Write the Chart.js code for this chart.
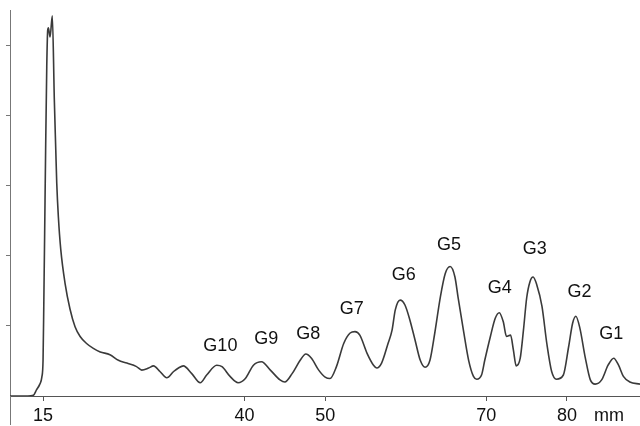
<!DOCTYPE html>
<html>
<head>
<meta charset="utf-8">
<script src="https://cdn.jsdelivr.net/npm/chart.js@4.4.1/dist/chart.umd.min.js"></script>
<style>
    html, body { margin: 0; padding: 0; background: #fff; }
    #wrap { width: 640px; height: 426px; }
</style>
</head>
<body>
<div id="wrap"><canvas id="chart" width="640" height="426"></canvas></div>
<script>
// trace position (mm) and detector signal (arbitrary units)
const positions = [
    10.9, 13.1, 13.8, 14.2, 14.6, 14.85, 15.0, 15.1, 15.2, 15.32, 15.46, 15.58, 15.66, 15.87,
    16.15, 16.4, 16.58, 16.7, 16.9, 17.2, 17.73, 18.35, 18.97, 19.6, 20.4, 21.24, 22.1, 23.3, 24.35,
    25.4, 26.6, 27.25, 28.1, 28.7, 29.5, 30.35, 31.2, 31.8, 32.4, 33.45, 34.5, 35.3, 36.55, 37.2,
    38.2, 39.2, 40.1, 41.1, 42.1, 43.2, 44.4, 45.0, 45.9, 46.9, 47.6, 48.3, 49.2, 50.0,
    50.6, 51.4, 52.3, 53.1, 53.7, 54.3, 55.2, 56.0, 56.4, 57.0, 57.8, 58.3, 58.7, 59.3,
    59.9, 60.5, 61.15, 61.8, 62.4, 63.0, 63.6, 64.3, 64.9, 65.5, 66.1, 66.5, 67.15, 67.8,
    68.4, 68.8, 69.4, 69.8, 70.5, 71.1, 71.6, 72.1, 72.5, 73.0, 73.35, 73.7, 74.2, 74.6,
    75.0, 75.4, 75.8, 76.25, 76.9, 77.5, 78.1, 78.7, 79.55, 80.2, 80.7, 81.1, 81.6, 82.25,
    82.9, 83.5, 84.3, 85.1, 85.8, 86.4, 87.0, 87.8, 89.06
];
const signal = [
    0.0, 0.0, 0.01, 0.09, 0.17, 0.27, 0.51, 1.37, 2.33, 3.51, 4.7, 5.23, 5.26, 5.13,
    5.43, 4.23, 3.51, 3.04, 2.56, 2.09, 1.61, 1.24, 0.99, 0.85, 0.75, 0.68, 0.63, 0.59, 0.51,
    0.47, 0.42, 0.37, 0.4, 0.43, 0.35, 0.26, 0.35, 0.4, 0.43, 0.32, 0.19, 0.3, 0.44, 0.42,
    0.28, 0.19, 0.25, 0.44, 0.49, 0.37, 0.23, 0.2, 0.32, 0.51, 0.6, 0.54, 0.37, 0.27,
    0.25, 0.42, 0.75, 0.9, 0.92, 0.87, 0.61, 0.44, 0.4, 0.47, 0.75, 0.94, 1.23, 1.37,
    1.3, 1.09, 0.8, 0.51, 0.41, 0.51, 0.9, 1.42, 1.75, 1.85, 1.7, 1.4, 0.94, 0.51,
    0.28, 0.24, 0.3, 0.51, 0.85, 1.11, 1.19, 1.06, 0.85, 0.87, 0.66, 0.43, 0.54, 0.94,
    1.4, 1.63, 1.7, 1.59, 1.28, 0.75, 0.35, 0.24, 0.3, 0.7, 1.04, 1.14, 0.97, 0.56,
    0.23, 0.17, 0.23, 0.44, 0.54, 0.44, 0.28, 0.2, 0.17
];

// band labels
const bandNames = ["G10", "G9", "G8", "G7", "G6", "G5", "G4", "G3", "G2", "G1"];
const bandX = [37.0, 42.7, 47.9, 53.3, 59.75, 65.35, 71.65, 76.0, 81.55, 85.5];
const bandY = [0.71, 0.82, 0.88, 1.24, 1.73, 2.16, 1.54, 2.1, 1.48, 0.88];

// axis ticks
const xTickValues = [15, 40, 50, 70, 80];
const xTickLabels = ["15", "40", "50", "70", "80"];
const unitLabel = "mm";
const unitPos = 85.2;
const yTickValues = [1, 2, 3, 4, 5];

const points = positions.map((p, i) => ({ x: p, y: signal[i] }));

const bandLabels = {
    id: "bandLabels",
    afterDatasetsDraw(chart) {
        const { ctx, scales } = chart;
        ctx.save();
        ctx.font = "18px 'Liberation Sans', Arial, sans-serif";
        ctx.fillStyle = "#111";
        ctx.textAlign = "center";
        ctx.textBaseline = "middle";
        bandNames.forEach((name, i) => {
            ctx.fillText(name, scales.x.getPixelForValue(bandX[i]), scales.y.getPixelForValue(bandY[i]));
        });
        ctx.restore();
    },
    afterDraw(chart) {
        // left axis line runs on down through the label row
        const { ctx, chartArea } = chart;
        ctx.save();
        ctx.strokeStyle = "#777";
        ctx.lineWidth = 1;
        ctx.beginPath();
        ctx.moveTo(chartArea.left + 0.5, chartArea.bottom);
        ctx.lineTo(chartArea.left + 0.5, chart.height - 1);
        ctx.stroke();
        ctx.restore();
    }
};

new Chart(document.getElementById("chart").getContext("2d"), {
    type: "line",
    data: {
        datasets: [
            {
                data: points,
                borderColor: "#3a3a3a",
                borderWidth: 1.6,
                pointRadius: 0,
                fill: false,
                cubicInterpolationMode: "monotone",
            },
        ],
    },
    options: {
        responsive: false,
        animation: false,
        events: [],
        layout: { padding: { top: 10, right: 0, bottom: 0, left: 0 } },
        plugins: {
            legend: { display: false },
            tooltip: { enabled: false },
        },
        scales: {
            x: {
                type: "linear",
                min: 10.9,
                max: 89.06,
                afterFit: (scale) => { scale.height = 30; },
                afterBuildTicks: (scale) => {
                    scale.ticks = xTickValues.concat([unitPos]).map((v) => ({ value: v }));
                },
                border: { display: true, color: "#555", width: 1 },
                grid: {
                    drawOnChartArea: false,
                    drawTicks: true,
                    tickLength: 5,
                    tickColor: (ctx) => (ctx.tick && ctx.tick.value === unitPos ? "rgba(0,0,0,0)" : "#555"),
                },
                ticks: {
                    autoSkip: false,
                    maxRotation: 0,
                    padding: 4,
                    color: "#111",
                    font: { family: "'Liberation Sans', Arial, sans-serif", size: 18 },
                    callback: (value) => {
                        if (value === unitPos) return unitLabel;
                        const i = xTickValues.indexOf(value);
                        return i >= 0 ? xTickLabels[i] : "";
                    },
                },
            },
            y: {
                min: 0,
                max: 5.514,
                afterFit: (scale) => { scale.width = 10; },
                afterBuildTicks: (scale) => {
                    scale.ticks = yTickValues.map((v) => ({ value: v }));
                },
                border: { display: true, color: "#777", width: 1 },
                grid: {
                    drawOnChartArea: false,
                    drawTicks: true,
                    tickLength: 4,
                    tickColor: "#777",
                },
                ticks: { display: false },
            },
        },
    },
    plugins: [bandLabels],
});
</script>
</body>
</html>
